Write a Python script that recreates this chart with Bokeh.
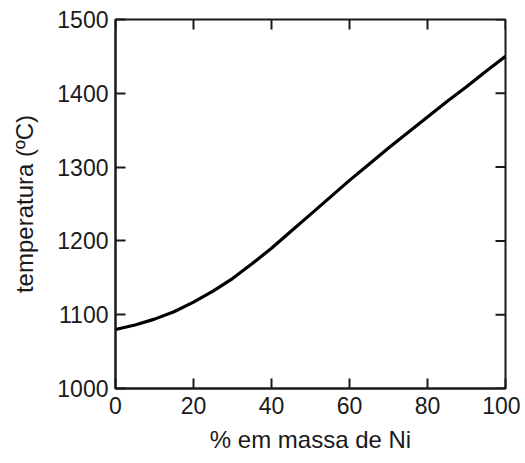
import math
from bokeh.plotting import figure
from bokeh.models import Range1d, FixedTicker
from bokeh.embed import file_html
from bokeh.resources import INLINE

# data
ni_pct = [0, 5, 10, 15, 20, 25, 30, 35, 40, 45, 50, 55, 60, 65, 70, 75, 80, 85, 90, 95, 100]
temp_c = [1080, 1086, 1094, 1104, 1117, 1132, 1149, 1169, 1190, 1213, 1236, 1259, 1282, 1304, 1326, 1347, 1368, 1389, 1409, 1430, 1450]
x_ticks = [0, 20, 40, 60, 80, 100]
y_ticks = [1000, 1100, 1200, 1300, 1400, 1500]

FONT = "Liberation Sans"
INK = "#1a1a1a"

p = figure(width=520, height=455, output_backend="svg", toolbar_location=None,
           x_range=Range1d(0, 100), y_range=Range1d(1000, 1500),
           min_border_left=115, min_border_right=15, min_border_top=19, min_border_bottom=64)
p.xgrid.visible = False
p.ygrid.visible = False
p.outline_line_color = INK
p.outline_line_width = 2
p.background_fill_color = "white"
p.border_fill_color = "white"

p.line(ni_pct, temp_c, line_color="black", line_width=3.2, line_join="round")

# inward ticks on the top and right edges (mirrored)
x1 = p.x_range.end
y1 = p.y_range.end
p.ray(x=x_ticks, y=[y1] * len(x_ticks), length=10, length_units="screen",
      angle=-math.pi / 2, line_color=INK, line_width=2)
p.ray(x=[x1] * len(y_ticks), y=y_ticks, length=10, length_units="screen",
      angle=math.pi, line_color=INK, line_width=2)

def style(ax, ticks):
    ax.ticker = FixedTicker(ticks=ticks)
    ax.axis_line_color = INK
    ax.axis_line_width = 2
    ax.major_tick_line_color = INK
    ax.major_tick_line_width = 2
    ax.major_tick_in = 10
    ax.major_tick_out = 0
    ax.minor_tick_line_color = None
    ax.major_label_text_font = FONT
    ax.major_label_text_color = INK
    ax.major_label_text_font_size = "23px"
    ax.axis_label_text_font = FONT
    ax.axis_label_text_color = INK
    ax.axis_label_text_font_style = "normal"
    ax.axis_label_text_font_size = "24px"

xa = p.xaxis[0]
style(xa, x_ticks)
xa.axis_label = "% em massa de Ni"
xa.major_label_standoff = 8
xa.axis_label_standoff = 9

ya = p.yaxis[0]
style(ya, y_ticks)
ya.axis_label = "temperatura (ºC)"
ya.major_label_standoff = 7
ya.axis_label_standoff = 16

open("out.html", "w").write(file_html(p, INLINE))
